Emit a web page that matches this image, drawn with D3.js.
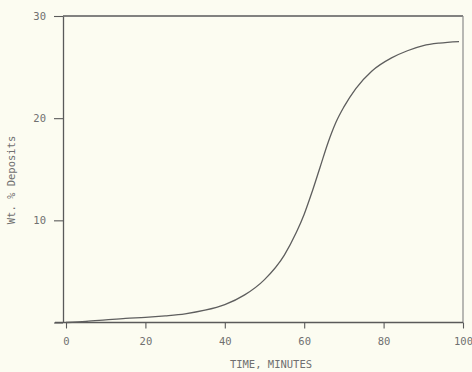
<!DOCTYPE html>
<html><head><meta charset="utf-8">
<script src="https://cdn.jsdelivr.net/npm/d3@7"></script>
<style>
html,body{margin:0;padding:0;background:#fcfcf1;}
svg{display:block;}
</style></head>
<body>
<script>
const timeMin = [0, 5, 10, 15, 20, 25, 30, 35, 40, 45, 50, 55, 58, 60, 62, 64, 66, 68, 70, 73, 77, 82, 86, 90, 94, 99];
const deposits = [0, 0.1, 0.25, 0.4, 0.5, 0.65, 0.85, 1.2, 1.75, 2.7, 4.2, 6.6, 8.8, 10.6, 12.8, 15.2, 17.6, 19.6, 21.1, 22.9, 24.6, 25.9, 26.6, 27.1, 27.35, 27.5];
const xTicks = [0, 20, 40, 60, 80, 100];
const yTicks = [0, 10, 20, 30];
const xTitle = "TIME, MINUTES";
const yTitle = "Wt. % Deposits";

const W = 472, H = 372;
const svg = d3.select("body").append("svg").attr("width", W).attr("height", H);
svg.append("rect").attr("width", W).attr("height", H).attr("fill", "#fcfcf1");

const x = d3.scaleLinear().domain([0, 100]).range([66, 463]);
const y = d3.scaleLinear().domain([0, 30]).range([322.5, 16]);
const ink = "#5a5a5a", txt = "#707070";
const font = "'DejaVu Sans Mono', monospace";

// frame: top and right
svg.append("line").attr("x1", 63).attr("x2", x(100)).attr("y1", y(30)).attr("y2", y(30))
  .attr("stroke", ink).attr("stroke-width", 1.3);
svg.append("line").attr("x1", x(100)).attr("x2", x(100)).attr("y1", y(30)).attr("y2", y(0))
  .attr("stroke", "#8a8a8a").attr("stroke-width", 1.2);

// bottom axis
const gx = svg.append("g").attr("transform", `translate(0,${y(0)})`)
  .call(d3.axisBottom(x).tickValues(xTicks).tickSize(6).tickSizeOuter(0).tickPadding(9));
gx.select(".domain").attr("d", `M${55},0H${x(100)}`).attr("stroke", ink).attr("stroke-width", 1.3);
gx.selectAll(".tick line").attr("stroke", ink).attr("stroke-width", 1.1);
gx.selectAll(".tick text").attr("fill", txt).attr("font-family", font).attr("font-size", 10.5);

// left axis
const gy = svg.append("g").attr("transform", `translate(63,0)`)
  .call(d3.axisLeft(y).tickValues(yTicks).tickSize(9).tickSizeOuter(0).tickPadding(8)
    .tickFormat(d => d === 0 ? "" : d));
gy.select(".domain").attr("stroke", ink).attr("stroke-width", 1.3);
gy.selectAll(".tick line").attr("stroke", ink).attr("stroke-width", 1.1);
gy.selectAll(".tick text").attr("fill", txt).attr("font-family", font).attr("font-size", 10.5);

// curve
const data = timeMin.map((t, i) => [t, deposits[i]]);
svg.append("path").datum(data)
  .attr("fill", "none").attr("stroke", "#5e5e5e").attr("stroke-width", 1.3)
  .attr("d", d3.line().x(d => x(d[0])).y(d => y(d[1])).curve(d3.curveMonotoneX));

// titles
svg.append("text").attr("x", 271).attr("y", 368).attr("text-anchor", "middle")
  .attr("fill", txt).attr("font-family", font).attr("font-size", 10.5).text(xTitle);
svg.append("text").attr("transform", "translate(15,180) rotate(-90)").attr("text-anchor", "middle")
  .attr("fill", txt).attr("font-family", font).attr("font-size", 10.5).text(yTitle);
</script>
</body></html>
